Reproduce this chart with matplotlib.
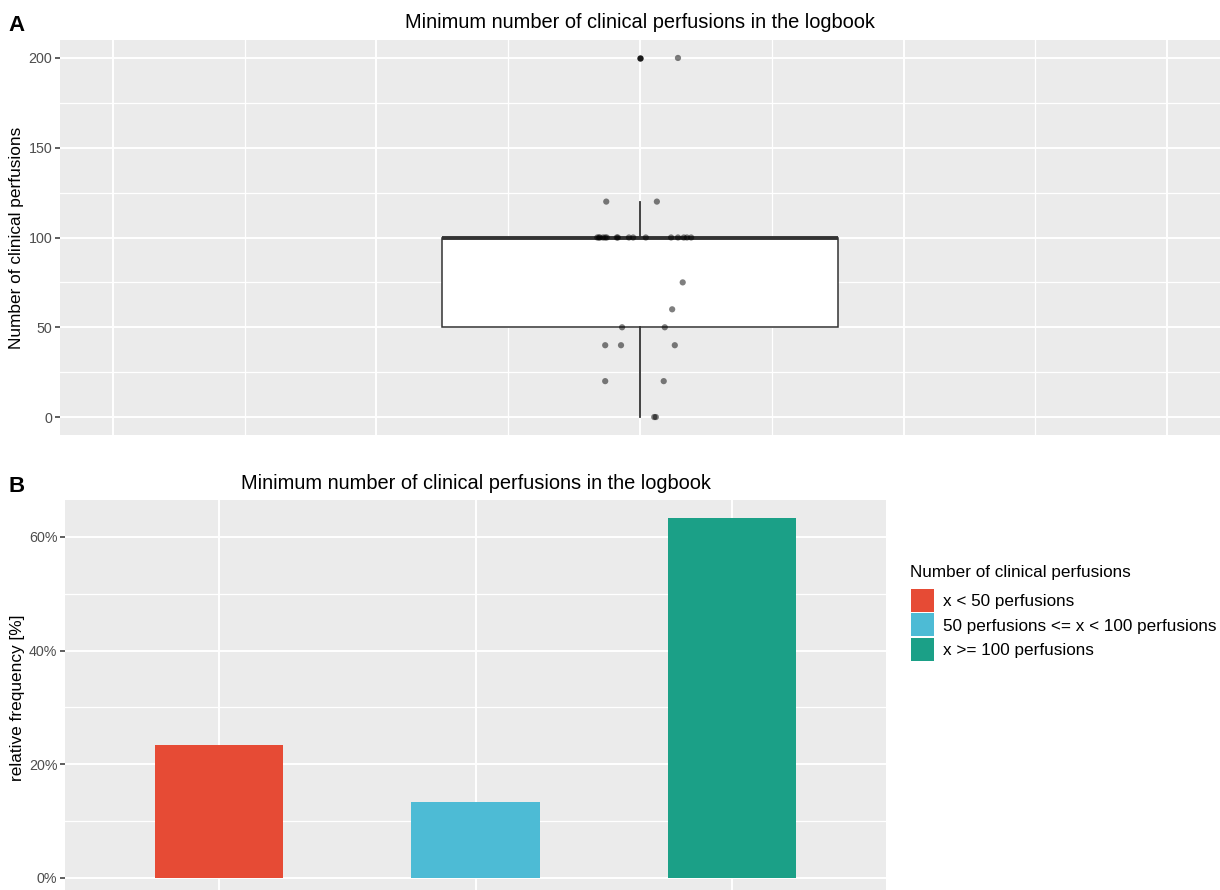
import matplotlib
matplotlib.use("Agg")
import matplotlib.pyplot as plt
from matplotlib.patches import Patch
from matplotlib.ticker import MultipleLocator, FuncFormatter

plt.rcParams['font.family'] = ['Liberation Sans', 'DejaVu Sans']

# minimum number of clinical perfusions required, one value per answer
perfusions = [200, 120, 120,
              100, 100, 100, 100, 100, 100, 100, 100,
              100, 100, 100, 100, 100, 100, 100, 100,
              75, 60, 50, 50, 40, 40, 40, 20, 20, 0, 0]
# horizontal jitter of the single points around the box
jitter = [0.072, -0.064, 0.032,
          -0.081, -0.078, -0.076, -0.070, -0.066, -0.063, -0.044, -0.042,
          -0.021, -0.013, 0.011, 0.059, 0.072, 0.083, 0.089, 0.097,
          0.081, 0.061, -0.034, 0.047, -0.066, -0.036, 0.066, -0.066, 0.045,
          0.027, 0.030]

groups = ["x < 50 perfusions", "50 perfusions <= x < 100 perfusions",
          "x >= 100 perfusions"]
rel_freq = [0.2333, 0.1333, 0.6333]
colors = ["#E64B35", "#4DBBD5", "#1BA087"]

title = "Minimum number of clinical perfusions in the logbook"
panel_bg = "#EBEBEB"
tick_col = "#4D4D4D"


def gg_style(ax):
    ax.set_facecolor(panel_bg)
    for s in ax.spines.values():
        s.set_visible(False)
    ax.grid(which="major", color="white", lw=1.4)
    ax.grid(which="minor", color="white", lw=0.9)
    ax.set_axisbelow(True)
    ax.tick_params(axis="y", which="major", length=3.5, width=1.1, color="#333333",
                   labelsize=10.3, labelcolor=tick_col, pad=2)
    ax.tick_params(axis="y", which="minor", length=0)
    ax.tick_params(axis="x", which="both", length=0, labelbottom=False)


fig = plt.figure(figsize=(12.2, 8.9), dpi=100)

# --- A: boxplot with jittered points
axA = fig.add_axes([60 / 1220, 1 - 435 / 890, 1160 / 1220, 395 / 890])
gg_style(axA)
axA.boxplot([perfusions], positions=[0], widths=0.75, whis=1.5, showcaps=False,
            patch_artist=True,
            boxprops=dict(facecolor="white", edgecolor="#333333", lw=1.1),
            whiskerprops=dict(color="#333333", lw=1.3),
            medianprops=dict(color="#333333", lw=2.8),
            flierprops=dict(marker="o", markerfacecolor="#1a1a1a",
                            markeredgecolor="none", markersize=4.6))
axA.scatter(jitter, perfusions, s=20, color="black", alpha=0.5,
            edgecolors="none", zorder=5)
axA.set_xlim(-1.1, 1.1)
axA.set_ylim(-10, 210)
axA.xaxis.set_major_locator(MultipleLocator(0.5))
axA.xaxis.set_minor_locator(MultipleLocator(0.25))
axA.yaxis.set_major_locator(MultipleLocator(50))
axA.yaxis.set_minor_locator(MultipleLocator(25))
axA.set_title(title, fontsize=14.4, pad=8.5)
axA.set_ylabel("Number of clinical perfusions", fontsize=12.4)
axA.yaxis.set_label_coords(-36 / 1160, 0.5)

# --- B: share of answers per group
axB = fig.add_axes([65 / 1220, 1 - 896 / 890, 821 / 1220, 396 / 890])
gg_style(axB)
xpos = [1, 2, 3]
axB.bar(xpos, rel_freq, width=0.5, color=colors, zorder=3)
axB.set_xlim(0.4, 3.6)
axB.set_ylim(-0.0317, 0.665)
axB.set_xticks(xpos)
axB.yaxis.set_major_locator(MultipleLocator(0.2))
axB.yaxis.set_minor_locator(MultipleLocator(0.1))
axB.xaxis.grid(which="minor", visible=False)
axB.yaxis.set_major_formatter(FuncFormatter(lambda v, p: f"{v * 100:.0f}%"))
axB.set_title(title, fontsize=14.4, pad=8)
axB.set_ylabel("relative frequency [%]", fontsize=12.4)
axB.yaxis.set_label_coords(-40 / 821, 0.5)

# legend: title as separate text so the gap above the keys can be set
fig.text(910 / 1220, 1 - 573 / 890, "Number of clinical perfusions",
         fontsize=12.3, va="center", ha="left")
handles = [Patch(facecolor=c, edgecolor="none") for c in colors]
leg = fig.legend(handles, groups,
                 loc="upper left", bbox_to_anchor=(911 / 1220, 1 - 589 / 890),
                 frameon=False, fontsize=12.3,
                 handlelength=1.35, handleheight=1.69, handletextpad=0.53,
                 labelspacing=0.09, borderpad=0, borderaxespad=0)

fig.text(8 / 1220, 1 - 31 / 890, "A", fontsize=16, fontweight="bold")
fig.text(8 / 1220, 1 - 492 / 890, "B", fontsize=16, fontweight="bold")

fig.savefig("out.png", dpi=100)
